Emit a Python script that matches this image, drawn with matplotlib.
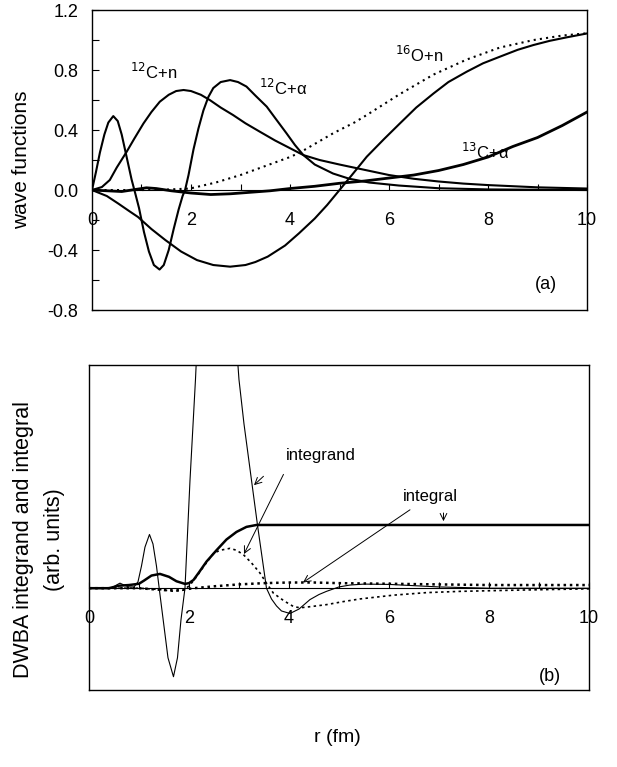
import numpy as np
import matplotlib
matplotlib.use("Agg")
import matplotlib.pyplot as plt
from matplotlib.ticker import MultipleLocator

plt.rcParams['font.family'] = ['Liberation Sans', 'DejaVu Sans']
plt.rcParams['axes.unicode_minus'] = False

# ---- panel (a): wave functions ----
r_c12a = [0, 0.08, 0.16, 0.25, 0.33, 0.43, 0.52, 0.6, 0.7, 0.8, 0.88, 0.95, 1.05, 1.15, 1.25,
          1.365, 1.45, 1.55, 1.65, 1.75, 1.83, 1.88, 1.95, 2.05, 2.15, 2.25, 2.35, 2.45, 2.6,
          2.79, 2.95, 3.12, 3.3, 3.53, 3.7, 3.93, 4.1, 4.27, 4.5, 4.87, 5.2, 5.6, 6.2, 7.0, 8.0, 10.0]
v_c12a = [0, 0.12, 0.25, 0.37, 0.45, 0.493, 0.46, 0.37, 0.22, 0.07, -0.03, -0.12, -0.28, -0.41, -0.5,
          -0.53, -0.5, -0.4, -0.26, -0.13, -0.04, 0.0, 0.1, 0.27, 0.41, 0.53, 0.62, 0.68, 0.72,
          0.733, 0.72, 0.69, 0.63, 0.556, 0.48, 0.378, 0.3, 0.233, 0.17, 0.11, 0.075, 0.05, 0.03, 0.012, 0.004, 0.0]

r_c12n = [0, 0.2, 0.36, 0.5, 0.7, 0.85, 1.04, 1.2, 1.37, 1.55, 1.7, 1.85, 2.0, 2.2, 2.38, 2.6, 2.85,
          3.1, 3.39, 3.7, 4.07, 4.27, 4.6, 5.0, 5.5, 6.0, 6.5, 7.0, 7.5, 8.0, 9.0, 10.0]
v_c12n = [0, 0.02, 0.067, 0.15, 0.255, 0.34, 0.444, 0.52, 0.589, 0.635, 0.66, 0.667, 0.66, 0.635, 0.6,
          0.55, 0.5, 0.445, 0.389, 0.33, 0.267, 0.233, 0.2, 0.17, 0.135, 0.1, 0.075, 0.057, 0.043,
          0.033, 0.018, 0.01]

r_o16n = [0, 0.3, 0.53, 0.75, 0.93, 1.2, 1.48, 1.8, 2.12, 2.45, 2.79, 3.1, 3.3, 3.55, 3.9, 4.18, 4.5,
          4.75, 5.0, 5.25, 5.55, 5.9, 6.22, 6.55, 6.9, 7.2, 7.57, 7.9, 8.24, 8.6, 8.92, 9.25, 9.59, 10.0]
v_o16n = [0, -0.04, -0.09, -0.14, -0.18, -0.26, -0.333, -0.41, -0.467, -0.5, -0.511, -0.5, -0.48,
          -0.444, -0.37, -0.289, -0.19, -0.1, 0.0, 0.1, 0.222, 0.34, 0.444, 0.55, 0.644, 0.72, 0.789,
          0.845, 0.889, 0.935, 0.967, 0.995, 1.018, 1.044]

r_dot = [0, 1.0, 1.5, 1.98, 2.5, 3.0, 3.5, 4.0, 4.2, 4.88, 5.3, 5.55, 6.22, 6.9, 7.57, 8.24, 8.92,
         9.5, 10.0]
v_dot = [0, 0.0, 0.003, 0.01, 0.05, 0.1, 0.16, 0.22, 0.25, 0.38, 0.45, 0.5, 0.64, 0.77, 0.87, 0.95,
         1.0, 1.03, 1.045]

r_c13a = [0, 0.3, 0.6, 0.9, 1.1, 1.3, 1.6, 2.0, 2.4, 2.8, 3.2, 3.6, 4.0, 4.5, 5.0, 5.5, 6.0, 6.5,
          7.0, 7.5, 8.0, 8.5, 9.0, 9.5, 10.0]
v_c13a = [0, -0.005, -0.01, 0.005, 0.015, 0.01, -0.005, -0.02, -0.03, -0.025, -0.015, -0.005, 0.01,
          0.025, 0.045, 0.06, 0.08, 0.1, 0.13, 0.17, 0.22, 0.29, 0.35, 0.43, 0.52]

# ---- panel (b): DWBA integrand and integral ----
r_ig = [0, 0.45, 0.55, 0.62, 0.7, 0.8, 0.9, 0.98, 1.05, 1.12, 1.21, 1.28, 1.35, 1.42, 1.5, 1.58,
        1.69, 1.77, 1.84, 1.92, 2.02, 2.13, 2.2, 2.3, 2.4, 2.5, 2.6, 2.7, 2.8, 2.9, 3.0, 3.1, 3.25,
        3.37, 3.46, 3.55, 3.65, 3.75, 3.85, 4.02, 4.2, 4.42, 4.6, 4.75, 5.0, 5.22, 5.5, 6.0, 6.5,
        7.0, 7.5, 8.0, 10.0]
v_ig = [0, 0, 0.05, 0.08, 0.05, 0.02, 0.02, 0.1, 0.35, 0.65, 0.85, 0.7, 0.35, -0.1, -0.6, -1.1,
        -1.4, -1.1, -0.5, 0.0, 1.7, 3.3, 4.5, 5.8, 6.7, 7.1, 7.0, 6.4, 5.4, 4.4, 3.3, 2.6, 1.71,
        1.0, 0.5, 0.0, -0.17, -0.28, -0.36, -0.4, -0.33, -0.18, -0.1, -0.05, 0.02, 0.05, 0.065,
        0.06, 0.04, 0.02, 0.01, 0.0, 0.0]

r_int = [0, 0.4, 0.6, 0.8, 1.0, 1.1, 1.25, 1.42, 1.6, 1.75, 1.92, 2.0, 2.09, 2.2, 2.35, 2.55, 2.75,
         2.95, 3.15, 3.35, 4.0, 10.0]
v_int = [0, 0, 0.04, 0.05, 0.07, 0.12, 0.2, 0.226, 0.18, 0.11, 0.068, 0.08, 0.13, 0.25, 0.42, 0.6,
         0.77, 0.89, 0.97, 1.0, 1.0, 1.0]

r_igd = [0, 1.0, 1.4, 1.7, 1.9, 2.02, 2.15, 2.29, 2.49, 2.62, 2.82, 2.95, 3.09, 3.25, 3.42, 3.55,
         3.69, 3.9, 4.09, 4.22, 4.45, 4.75, 5.1, 5.42, 6.09, 6.75, 7.42, 8.6, 10.0]
v_igd = [0, 0, -0.02, -0.05, -0.03, 0.05, 0.18, 0.34, 0.55, 0.6, 0.63, 0.6, 0.53, 0.4, 0.24, 0.08,
         -0.08, -0.2, -0.29, -0.31, -0.29, -0.26, -0.21, -0.17, -0.11, -0.07, -0.05, -0.03, -0.01]

r_intd = [0, 1.0, 1.5, 1.8, 2.1, 2.5, 3.0, 3.5, 4.0, 4.5, 5.0, 6.0, 7.0, 8.0, 9.0, 10.0]
v_intd = [0, 0, -0.03, -0.03, 0.0, 0.03, 0.06, 0.08, 0.09, 0.09, 0.08, 0.07, 0.06, 0.05, 0.05, 0.05]

xticks = [0, 2, 4, 6, 8, 10]
yticks_a = [-0.8, -0.4, 0.0, 0.4, 0.8, 1.2]
ylim_b = (-1.61, 3.53)

fig = plt.figure(figsize=(6.17, 7.67), dpi=100)
ax1 = fig.add_axes([0.1491, 0.5958, 0.8023, 0.3911])
ax2 = fig.add_axes([0.1442, 0.1004, 0.8104, 0.4237])

fs = 13

def zero_axis(ax, ylim):
    # box axes plus a labelled axis line through y = 0
    ax.set_xlim(0, 10)
    ax.set_ylim(*ylim)
    ax.tick_params(axis='x', bottom=False, labelbottom=False)
    loc = (0 - ylim[0]) / (ylim[1] - ylim[0])
    sec = ax.secondary_xaxis(loc)
    sec.spines['bottom'].set_linewidth(0.8)
    sec.set_xticks(xticks)
    sec.xaxis.set_minor_locator(MultipleLocator(1))
    sec.tick_params(which='both', direction='in', length=4, width=0.8, pad=16, labelsize=fs)
    for s in ax.spines.values():
        s.set_linewidth(1.0)

# panel (a)
zero_axis(ax1, (-0.8, 1.2))
ax1.plot(r_dot, v_dot, color='black', lw=1.5, ls=(0, (1, 2)))
ax1.plot(r_c12n, v_c12n, color='black', lw=1.5)
ax1.plot(r_c12a, v_c12a, color='black', lw=1.5)
ax1.plot(r_o16n, v_o16n, color='black', lw=1.5)
ax1.plot(r_c13a, v_c13a, color='black', lw=2.0)
ax1.set_yticks(yticks_a)
ax1.set_yticklabels(['%.1f' % t for t in yticks_a])
ax1.yaxis.set_minor_locator(MultipleLocator(0.2))
ax1.tick_params(axis='y', which='both', direction='in', length=5, width=0.8, pad=10, labelsize=fs)
ax1.text(1.25, 0.79, r'$^{12}$C+n', fontsize=12, ha='center', va='center')
ax1.text(3.87, 0.68, r'$^{12}$C+α', fontsize=12, ha='center', va='center')
ax1.text(6.6, 0.9, r'$^{16}$O+n', fontsize=12, ha='center', va='center')
ax1.text(7.95, 0.256, r'$^{13}$C+α', fontsize=12, ha='center', va='center')
ax1.text(9.18, -0.63, '(a)', fontsize=13, ha='center', va='center')

# panel (b)
zero_axis(ax2, ylim_b)
ax2.plot(r_ig, v_ig, color='black', lw=0.8)
ax2.plot(r_int, v_int, color='black', lw=1.8)
ax2.plot(r_igd, v_igd, color='black', lw=1.2, ls=(0, (1.5, 2)))
ax2.plot(r_intd, v_intd, color='black', lw=1.8, ls=(0, (1, 1.5)))
ax2.set_yticks([])
ax2.text(4.64, 2.1, 'integrand', fontsize=12, ha='center', va='center')
ax2.text(6.83, 1.45, 'integral', fontsize=12, ha='center', va='center')
ax2.text(9.22, -1.4, '(b)', fontsize=13, ha='center', va='center')

arrow_tips = [(3.3, 1.63), (3.1, 0.54), (4.28, 0.09), (7.09, 1.06)]
arrow_tails = [(3.49, 1.77), (3.89, 1.8), (6.42, 1.24), (7.09, 1.19)]
for tip, tail in zip(arrow_tips, arrow_tails):
    ax2.annotate('', xy=tip, xytext=tail,
                 arrowprops=dict(arrowstyle='->', lw=0.7, color='black',
                                 shrinkA=0, shrinkB=0, mutation_scale=12))

# axis titles
fig.text(22 / 617, 1 - 160 / 767, 'wave functions', fontsize=15, rotation=90,
         ha='center', va='center')
fig.text(39 / 617, 1 - 540 / 767, 'DWBA integrand and integral\n(arb. units)', fontsize=15.5,
         rotation=90, ha='center', va='center', multialignment='center', linespacing=1.65)
fig.text(0.546, 1 - 738 / 767, 'r (fm)', fontsize=14, ha='center', va='center')

fig.savefig('out.png', dpi=100)
